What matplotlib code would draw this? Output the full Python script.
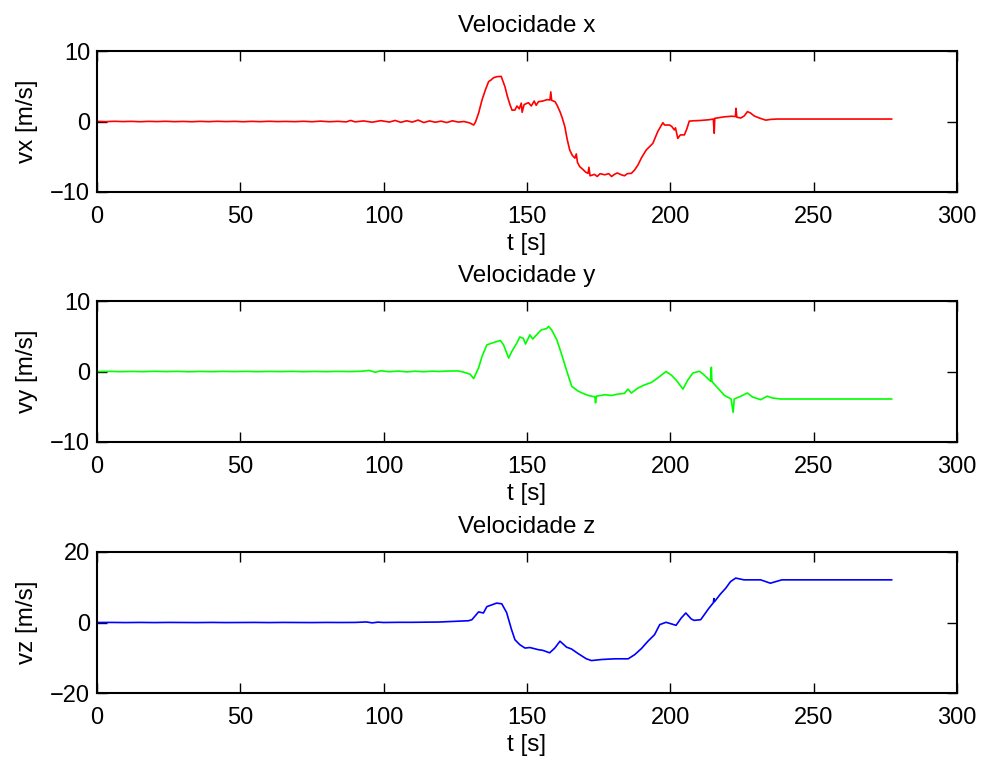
import matplotlib
matplotlib.use("Agg")
import matplotlib.pyplot as plt

plt.rcParams['font.family'] = ['Liberation Sans', 'DejaVu Sans']

# ---- data ----
vx_t = [0, 3, 6, 9, 12, 15, 18, 21, 24, 27, 30, 33, 36, 39, 42, 45, 48, 51, 54, 57, 60, 63, 66, 69, 72,
        75, 78, 81, 84, 87, 88.5, 90, 93, 96, 99, 102, 104, 106, 108, 110, 112, 114, 116, 118, 120, 122,
        124, 126, 128, 130, 131.4, 132, 133.1, 134.3, 135.5, 136.6, 137.5, 138.3, 139.5, 141.0, 142.3,
        143.2, 144.1, 144.8, 145.8, 146.5, 147.3, 148.0, 148.3, 149.0, 150.5, 151.5, 152.5, 153.2, 154.0,
        155.5, 157, 158.0, 158.3, 158.6, 159.8, 160.5, 161.5, 162.3, 163.2, 164.0, 164.9, 165.8, 166.7,
        167.2, 167.6, 168.4, 169.5, 170.5, 171.3, 171.6, 172, 173.5, 174.5, 175.5, 177.1, 178.5, 179.5,
        180.5, 181.5, 182.9, 184, 185, 186.4, 187.5, 188.7, 190, 191.6, 193.9, 195.6, 197.4, 198, 199.7,
        200.5, 201.4, 201.8, 202.6, 203.5, 204.9, 205.8, 206.6, 208, 210.7, 212, 213.5, 215, 215.3, 215.5,
        217, 218.8, 220, 221.5, 222.7, 222.9, 223.2, 224.6, 225.8, 226.9, 228, 229.2, 231, 233.3, 235,
        237.3, 238.4, 277.2]
vx_v = [0.02, -0.02, 0.03, -0.01, 0.02, -0.03, 0.02, -0.01, 0.03, -0.02, 0.01, -0.03, 0.02, -0.02, 0.03,
        -0.01, 0.02, -0.03, 0.02, -0.02, 0.03, -0.01, 0.01, -0.02, 0.03, -0.03, 0.05, -0.03, 0.02, -0.05,
        0.15, -0.05, 0.08, -0.1, 0.12, -0.08, 0.15, -0.12, 0.1, -0.08, 0.2, -0.15, 0.08, -0.1, 0.05, -0.15,
        0.1, -0.08, 0.0, -0.2, -0.5, -0.1, 1.16, 3.05, 4.5, 5.65, 5.9, 6.2, 6.36, 6.4, 4.94, 3.5, 2.34,
        1.6, 1.63, 2.2, 1.8, 2.6, 1.3, 2.4, 2.67, 2.2, 2.9, 2.3, 2.81, 2.9, 3.1, 3.05, 4.2, 3.0, 2.8, 2.3,
        1.4, 0.5, -0.73, -2.5, -4.04, -4.8, -5.2, -4.6, -5.8, -6.4, -6.8, -7.2, -7.35, -6.5, -7.7, -7.5,
        -7.8, -7.4, -7.56, -7.4, -7.8, -7.5, -7.3, -7.56, -7.7, -7.4, -7.35, -6.9, -6.17, -5.1, -4.04,
        -3.1, -1.44, -0.17, -0.5, -0.5, -0.7, -1.2, -0.9, -2.4, -1.9, -1.9, -1.0, 0.05, 0.1, 0.15, 0.2,
        0.25, 0.35, -1.66, 0.45, 0.55, 0.66, 0.7, 0.75, 0.7, 1.87, 0.6, 0.5, 0.8, 1.4, 1.2, 0.8, 0.5,
        0.19, 0.3, 0.35, 0.35, 0.35]

vy_t = [0, 4, 8, 12, 16, 20, 24, 28, 32, 36, 40, 44, 48, 52, 56, 60, 64, 68, 72, 76, 80, 84, 88, 92,
        95, 97, 99, 102, 105, 108, 111, 114, 117, 119.2, 122, 126.1, 128, 130.2, 131.4, 133.1, 134.3,
        136.0, 138.3, 140.7, 141.8, 143.6, 144.7, 146.4, 147.5, 148.7, 149.5, 151.0, 152.0, 154.0, 155.0,
        156.9, 157.5, 158.6, 160.4, 162.1, 163.9, 165.6, 167.9, 169.5, 171.4, 173.7, 173.9, 174.2, 177.1,
        179.5, 181.8, 184, 185.2, 186.4, 188.7, 191, 193.4, 195.6, 198.5, 200.3, 202.0, 204.4, 206.1,
        207.9, 210.2, 211.8, 214.1, 214.3, 214.5, 216.0, 218.9, 221.2, 221.9, 222.3, 224.6, 226.9, 228.6,
        231.5, 233.8, 235.5, 238.4, 277.2]
vy_v = [0.0, 0.02, -0.02, 0.01, -0.02, 0.03, -0.01, 0.02, -0.03, 0.01, -0.02, 0.02, -0.01, 0.02, -0.02,
        0.01, -0.01, 0.02, -0.02, 0.01, -0.02, 0.02, -0.01, 0.03, 0.15, -0.1, 0.1, -0.03, 0.06, -0.05,
        0.04, -0.03, 0.05, 0.0, 0.06, 0.08, -0.1, -0.4, -1.0, 0.5, 2.12, 3.78, 4.1, 4.4, 3.8, 1.9, 2.85,
        4.0, 4.9, 4.7, 3.9, 5.2, 4.6, 5.5, 5.9, 6.1, 6.4, 5.9, 4.5, 2.4, 0.03, -2.1, -2.8, -3.1, -3.4,
        -3.6, -4.45, -3.5, -3.3, -3.4, -3.2, -3.1, -2.5, -3.05, -2.35, -1.9, -1.55, -0.92, 0.0, -0.5,
        -1.2, -2.5, -1.2, -0.2, 0.03, -0.5, -1.4, 0.6, -1.4, -2.1, -3.4, -3.9, -5.8, -3.9, -3.5, -3.05,
        -3.6, -4.0, -3.5, -3.75, -3.9, -3.9]

vz_t = [0, 5, 10, 15, 20, 25, 30, 35, 40, 45, 50, 55, 60, 65, 70, 75, 80, 85, 90, 94, 96, 98, 100, 105,
        110, 115, 119.2, 124, 129.6, 130.8, 133.1, 134.8, 136.0, 139.4, 141.2, 142.9, 144.6, 145.8, 147.5,
        149.3, 151.0, 153.9, 155.5, 157.9, 159.7, 161.5, 163.8, 165.5, 167.8, 170.7, 172.5, 176.0, 180.6,
        185.3, 187.6, 189.9, 192.2, 194.5, 196.3, 198.5, 202.0, 203.8, 205.4, 207.3, 208.3, 210.6, 213.5,
        215.0, 215.2, 215.4, 217.5, 219.3, 221.0, 222.8, 225.7, 231.5, 234.9, 238.9, 277.2]
vz_v = [0.0, 0.02, -0.02, 0.02, -0.02, 0.02, 0.0, -0.02, 0.02, -0.02, 0.0, 0.02, -0.02, 0.02, 0.0,
        -0.02, 0.02, 0.0, 0.02, 0.15, -0.1, 0.1, 0.0, 0.05, 0.05, 0.1, 0.13, 0.3, 0.5, 0.8, 3.0, 2.7,
        4.5, 5.5, 5.3, 2.8, -2.0, -4.9, -6.3, -7.25, -7.1, -7.7, -7.9, -8.6, -7.25, -5.3, -7.0, -7.5,
        -8.8, -10.3, -10.8, -10.5, -10.3, -10.3, -9.1, -7.4, -5.3, -3.45, -0.6, 0.06, -0.8, 1.27, 2.7,
        1.0, 0.6, 0.8, 4.1, 5.6, 6.8, 5.9, 8.1, 9.7, 11.6, 12.6, 12.1, 12.1, 11.15, 12.1, 12.1]

titles = ['Velocidade x', 'Velocidade y', 'Velocidade z']
ylabels = ['vx [m/s]', 'vy [m/s]', 'vz [m/s]']
xlabel = 't [s]'
colors = ['#ff0000', '#00ff00', '#0000ff']
xticks = [0, 50, 100, 150, 200, 250, 300]
yticks = [[-10, 0, 10], [-10, 0, 10], [-20, 0, 20]]
series = [(vx_t, vx_v), (vy_t, vy_v), (vz_t, vz_v)]

fig = plt.figure(figsize=(9.85, 7.6), dpi=100)
left = 97 / 985
width = 860 / 985
tops = [51, 301, 552]
bots = [192, 442, 693]

for i in range(3):
    b = 1 - bots[i] / 760
    h = (bots[i] - tops[i]) / 760
    ax = fig.add_axes([left, b, width, h])
    t, v = series[i]
    ax.plot(t, v, color=colors[i], linewidth=1.2)
    ax.set_xlim(0, 300)
    ax.set_ylim(yticks[i][0], yticks[i][-1])
    ax.set_xticks(xticks)
    ax.set_yticks(yticks[i])
    ax.tick_params(direction='in', top=True, right=True, length=7, width=1.0,
                   labelsize=17)
    ax.tick_params(axis='x', pad=10)
    ax.tick_params(axis='y', pad=5)
    for s in ax.spines.values():
        s.set_linewidth(1.5)
    ax.set_title(titles[i], fontsize=17.5, pad=14)
    ax.set_ylabel(ylabels[i], fontsize=17.5, labelpad=9)
    ax.set_xlabel(xlabel, fontsize=17.5, labelpad=4)

fig.savefig('out.png', dpi=100)
